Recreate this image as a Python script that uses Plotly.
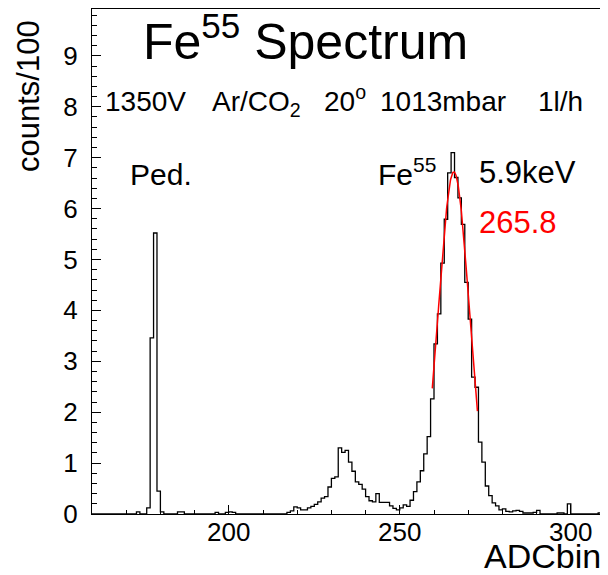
import numpy as np
import plotly.graph_objects as go

# ---------------- data (counts/100 per 1-ADC bin) ----------------
x_min, x_max = 160, 310
y_max = 9.92

ped_first_bin = 173
ped_counts = [0.04, 0.0, 0.0, 0.12, 3.46, 5.52, 0.45, 0.04]          # 173..180

small_bins = [185, 186, 196, 199, 200, 201]
small_counts = [0.04, 0.04, 0.03, 0.03, 0.04, 0.03]

escape_first_bin = 217
escape_counts = [0.03, 0.06, 0.14, 0.12, 0.08, 0.08, 0.12, 0.15, 0.19, 0.24,
                 0.31, 0.34, 0.53, 0.70, 0.73, 1.30, 1.21, 1.25, 1.02, 0.84,
                 0.63, 0.58, 0.49, 0.34, 0.26, 0.24, 0.40, 0.23, 0.23, 0.23,
                 0.16, 0.11]                                             # 217..248

main_first_bin = 249
main_counts = [0.08, 0.12, 0.18, 0.15, 0.27, 0.44, 0.63, 0.85, 1.18, 1.52,
               2.26, 3.34, 3.93, 4.93, 5.79, 6.70, 7.10, 6.61, 6.21, 5.69,
               4.55, 3.83, 2.69, 2.49, 1.41, 1.02, 0.55, 0.36, 0.22, 0.16,
               0.08]                                                     # 249..279

tail_first_bin = 280
tail_counts = [0.10, 0.05, 0.04, 0.06, 0.07, 0.05, 0.02, 0.02, 0.02, 0.03,
               0.07, 0.0, 0.0, 0.0, 0.0, 0.0, 0.02, 0.02, 0.0, 0.20,
               0.0, 0.0, 0.0, 0.0, 0.0, 0.0, 0.0, 0.0, 0.02]             # 280..308

# Gaussian fit parameters (red curve)
fit_mean = 265.8
fit_sigma = 4.45
fit_amp = 6.72
fit_range = (259.5, 272.7)

x_ticks = [200, 250, 300]
y_ticks = list(range(0, 10))

# ---------------- build histogram ----------------
edges = np.arange(x_min, x_max + 1)
counts = np.zeros(len(edges) - 1)

def fill(first, vals):
    for i, v in enumerate(vals):
        counts[first + i - x_min] = v

fill(ped_first_bin, ped_counts)
for b, v in zip(small_bins, small_counts):
    counts[b - x_min] = v
fill(escape_first_bin, escape_counts)
fill(main_first_bin, main_counts)
fill(tail_first_bin, tail_counts)

step_x = list(edges)
step_y = list(counts) + [counts[-1]]

fx = np.linspace(fit_range[0], fit_range[1], 200)
fy = fit_amp * np.exp(-0.5 * ((fx - fit_mean) / fit_sigma) ** 2)

FONT = "Liberation Sans, Arial, Helvetica, sans-serif"

fig = go.Figure()
fig.add_trace(go.Scatter(x=step_x, y=step_y, mode="lines", line_shape="hv",
                         line=dict(color="black", width=1.3), hoverinfo="skip"))
fig.add_trace(go.Scatter(x=fx, y=fy, mode="lines",
                         line=dict(color="#ff0000", width=1.5), hoverinfo="skip"))

# page body has an 8px margin, so the figure is drawn from (8, 8)
OFF = 8
W, H = 600, 567
ML, MR, MT, MB = 92 - OFF, 3, 9 - OFF, 61
PW, PH = W - ML - MR, H - MT - MB

def px(x):
    return (x - OFF - ML) / PW

def py(y):
    return (H - MB - (y - OFF)) / PH

def ann(text, x, y, size, color="black", xanchor="center", angle=0):
    fig.add_annotation(text=text, x=px(x), y=py(y), xref="paper", yref="paper",
                       showarrow=False, xanchor=xanchor, yanchor="middle",
                       textangle=angle,
                       font=dict(family=FONT, size=size, color=color))

ann("Fe<sup>55</sup> Spectrum", 305, 38, 50)
ann("1350V", 145, 101, 28)
ann("Ar/CO<sub>2</sub>", 256, 103, 28)
ann("20<sup>o</sup>", 345, 99, 28)
ann("1013mbar", 443, 101, 28)
ann("1l/h", 560, 101, 28)
ann("Ped.", 161, 175, 30)
ann("Fe<sup>55</sup>", 407, 172, 30)
ann("5.9keV", 527, 173, 31)
ann("265.8", 518, 222, 31, color="#ff0000")
ann("counts/100", 28, 96, 31, angle=-90)
ann("ADCbin", 603, 556, 34, xanchor="right")

fig.update_layout(
    width=W, height=H,
    margin=dict(l=ML, r=MR, t=MT, b=MB),
    paper_bgcolor="white", plot_bgcolor="white",
    showlegend=False,
    font=dict(family=FONT, size=26, color="black"),
    xaxis=dict(range=[x_min, x_max], tickvals=x_ticks,
               ticks="inside", ticklen=9, tickcolor="black", tickwidth=1,
               minor=dict(dtick=10, tick0=0, ticks="inside", ticklen=4,
                          tickcolor="black", tickwidth=1),
               showline=True, linecolor="black", linewidth=1.2, mirror=True,
               showgrid=False, zeroline=False,
               ticklabelstandoff=-5,
               tickfont=dict(size=26)),
    yaxis=dict(range=[0, y_max], tickvals=y_ticks,
               ticks="inside", ticklen=9, tickcolor="black", tickwidth=1,
               minor=dict(dtick=0.2, tick0=0, ticks="inside", ticklen=4.5,
                          tickcolor="black", tickwidth=1),
               showline=True, linecolor="black", linewidth=1.2, mirror=True,
               showgrid=False, zeroline=False,
               ticklabelstandoff=8,
               tickfont=dict(size=26)),
)

fig.write_html("out.html")
